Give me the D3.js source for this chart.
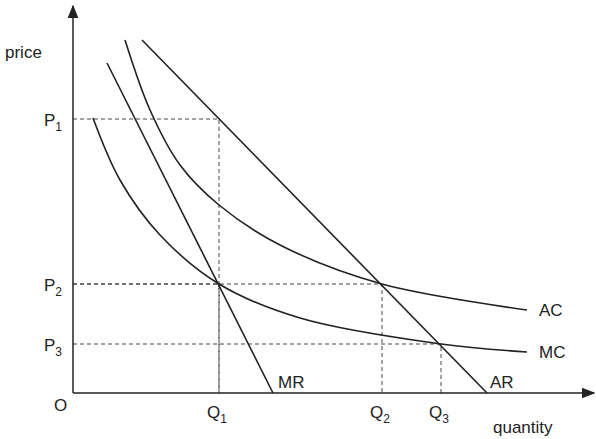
<!DOCTYPE html>
<html><head><meta charset="utf-8">
<script src="https://cdn.jsdelivr.net/npm/d3@7"></script>
<style>body{margin:0;background:#fff}text{font-family:"Liberation Sans",Arial,sans-serif;font-size:17px;fill:#222}</style>
</head><body><svg id="c" width="596" height="439"></svg>
<script>
// quantity / price in drawing units (origin at O)
var qTicks = [{name: "Q", sub: "1", v: 146}, {name: "Q", sub: "2", v: 309}, {name: "Q", sub: "3", v: 368}];
var pTicks = [{name: "P", sub: "1", v: 274}, {name: "P", sub: "2", v: 109}, {name: "P", sub: "3", v: 49}];
var arLine = [[69, 353], [414, 0]];
var mrLine = [[34, 330], [200, 0]];
var acCurve = [[52, 353], [77, 283], [107, 228], [146, 188], [207, 148], [309, 109], [454, 83]];
var mcCurve = [[20, 275], [47, 213], [87, 158], [146, 109], [227, 75], [368, 49], [454, 41]];
var guides = [[146, 274], [146, 109], [309, 109], [368, 49]];

var svg = d3.select("#c");
var x = d3.scaleLinear().domain([0, 517]).range([73, 590]);
var y = d3.scaleLinear().domain([0, 383]).range([393, 10]);
var line = d3.line().x(d => x(d[0])).y(d => y(d[1]));

svg.append("defs").append("marker").attr("id", "ar").attr("viewBox", "0 0 10 10")
  .attr("refX", 9).attr("refY", 5).attr("markerWidth", 9).attr("markerHeight", 9).attr("orient", "auto")
  .append("path").attr("d", "M0,1 L10,5 L0,9 Z").attr("fill", "#222");

// dashed guides
guides.forEach(function (g) {
  svg.append("path").attr("d", line([[0, g[1]], [g[0], g[1]], [g[0], 0]]))
    .attr("fill", "none").attr("stroke", "#333").attr("stroke-width", 0.9).attr("stroke-dasharray", "4,3");
});

// axes
svg.append("line").attr("x1", x(0)).attr("y1", y(0)).attr("x2", x(0)).attr("y2", 6)
  .attr("stroke", "#222").attr("stroke-width", 1.5).attr("marker-end", "url(#ar)");
svg.append("line").attr("x1", x(0)).attr("y1", y(0)).attr("x2", 594).attr("y2", y(0))
  .attr("stroke", "#222").attr("stroke-width", 1.5).attr("marker-end", "url(#ar)");

[arLine, mrLine].forEach(function (d) {
  svg.append("path").attr("d", line(d)).attr("fill", "none").attr("stroke", "#222").attr("stroke-width", 1.6);
});
var curve = d3.line().x(d => x(d[0])).y(d => y(d[1])).curve(d3.curveCatmullRom);
[acCurve, mcCurve].forEach(function (d) {
  svg.append("path").attr("d", curve(d)).attr("fill", "none").attr("stroke", "#222").attr("stroke-width", 1.6);
});

function lab(tx, ty, name, sub, anchor) {
  var t = svg.append("text").attr("x", tx).attr("y", ty).attr("text-anchor", anchor || "start");
  t.append("tspan").text(name);
  if (sub) t.append("tspan").attr("dy", 5).attr("font-size", 12).text(sub);
}
pTicks.forEach(p => lab(44, y(p.v) + 7, p.name, p.sub));
qTicks.forEach(q => lab(x(q.v) - 12, 418, q.name, q.sub));
lab(5, 58, "price");
lab(493, 433, "quantity");
lab(54, 411, "O");
lab(539, 316, "AC");
lab(539, 358, "MC");
lab(278, 388, "MR");
lab(490, 388, "AR");
</script></body></html>
